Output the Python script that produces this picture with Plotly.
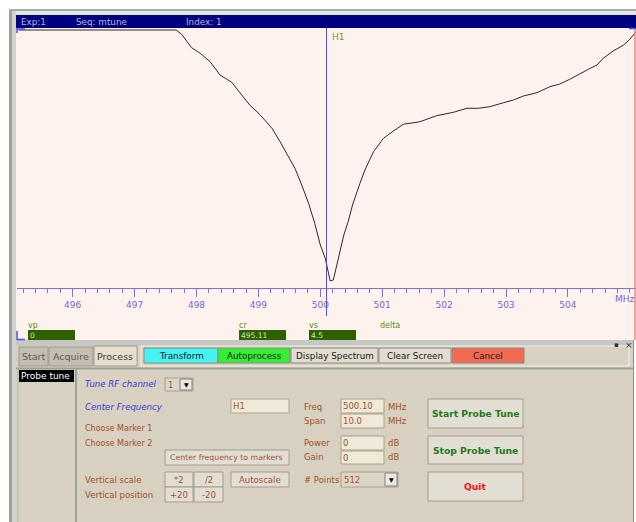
import plotly.graph_objects as go

W, H = 636, 522

# tuning sweep: frequency (MHz) and reflected signal (display units)
freq_mhz = [495.13, 497.67, 497.76, 497.92, 498.06, 498.22, 498.38, 498.57, 498.73, 498.86,
            499.03, 499.22, 499.35, 499.46, 499.59, 499.70, 499.81, 499.91, 500.00, 500.08,
            500.11, 500.16, 500.21, 500.29, 500.38, 500.45, 500.52, 500.64, 500.72, 500.86,
            501.02, 501.18, 501.34, 501.61, 501.88, 502.15, 502.37, 502.55, 502.74, 502.96,
            503.12, 503.28, 503.50, 503.71, 503.87, 504.03, 504.20, 504.36, 504.47, 504.57,
            504.73, 504.90, 505.00, 505.10]
reflection = [258, 258, 253.7, 240.3, 234.7, 226.3, 213, 205.7, 193, 183,
              173, 159.7, 146.3, 134.7, 119.7, 103, 84.7, 64.7, 43, 29.7,
              19.7, 7, 8, 29.7, 53, 66.3, 83, 104.7, 118, 136.3,
              149.7, 157, 163.7, 166.3, 172.3, 175.7, 179.7, 179.7, 181.3, 185.3,
              188, 192, 195.3, 201.3, 204, 208.7, 214.7, 219.7, 223, 229.7,
              237, 243, 248.7, 256.3]

center_freq = 500.10
span_mhz = 10.0
major_ticks = [496, 497, 498, 499, 500, 501, 502, 503, 504]
tick_labels = [str(t) for t in major_ticks]

header_items = ['Exp:1', 'Seq: mtune', 'Index: 1']
marker_names = ['vp', 'cr', 'vs', 'delta']
marker_values = ['0', '495.11', '4.5', None]

tabs = ['Start', 'Acquire', 'Process']
action_buttons = ['Transform', 'Autoprocess', 'Display Spectrum', 'Clear Screen', 'Cancel']
action_colors = ['#44f2f2', '#33ee33', '#e2ddd0', '#e2ddd0', '#f26a50']

FONT = 'DejaVu Sans'
BEIGE = '#d8d0c0'
BROWN = '#a0522d'
BLUE_TXT = '#3a3ad6'
PINK = '#fdf2ed'


def px(x):
    return x / W


def py(y):
    return 1 - y / H


shapes = []
notes = []


def rect(x0, y0, x1, y1, fill, line=None, lw=1, layer='above'):
    shapes.append(dict(type='rect', xref='paper', yref='paper',
                       x0=px(x0), x1=px(x1), y0=py(y1), y1=py(y0),
                       fillcolor=fill, layer=layer,
                       line=dict(color=line or fill, width=lw if line else 0)))


def hline(x0, x1, y, color, lw=1):
    shapes.append(dict(type='line', xref='paper', yref='paper',
                       x0=px(x0), x1=px(x1), y0=py(y), y1=py(y),
                       line=dict(color=color, width=lw)))


def vline(x, y0, y1, color, lw=1):
    shapes.append(dict(type='line', xref='paper', yref='paper',
                       x0=px(x), x1=px(x), y0=py(y0), y1=py(y1),
                       line=dict(color=color, width=lw)))


def text(x, y, s, color, size=9, anchor='left'):
    notes.append(dict(x=px(x), y=py(y), xref='paper', yref='paper', text=s,
                      showarrow=False, xanchor=anchor, yanchor='middle',
                      borderpad=0, font=dict(family=FONT, size=size, color=color)))


def button(x0, y0, x1, y1, label, color=BROWN, size=8.5, fill='#e3ded3'):
    rect(x0, y0, x1, y1, fill, '#a39b8b')
    text((x0 + x1) / 2, (y0 + y1) / 2, label, color, size, 'center')


def field(x0, y0, x1, y1, value):
    rect(x0, y0, x1, y1, '#f1e9d8', '#a8a090')
    text(x0 + 1, (y0 + y1) / 2, value, BROWN, 8.5)


def combo(x0, y0, x1, y1, value):
    rect(x0, y0, x1, y1, '#ddd5c6', '#a8a090')
    text(x0 + 2, (y0 + y1) / 2, value, BROWN, 8.5)
    rect(x1 - 13, y0 + 1, x1 - 1, y1 - 1, '#ece8e0', '#808080')
    text(x1 - 7, (y0 + y1) / 2, '▼', '#000000', 6, 'center')


# window frame
hline(9, 636, 10, '#a4aca4', 2)
rect(9, 11, 636, 15, '#e6e6e6', layer='below')
rect(9, 9, 12, 522, '#98a496', layer='below')
rect(12, 11, 16, 522, '#d2d4ce', layer='below')

# header bar
rect(16, 15, 636, 28, '#000080', layer='below')
for label, x in zip(header_items, [20, 75, 185]):
    text(x, 22, label, '#b8b8d0', 8.8)

# display area
rect(16, 28, 636, 340, PINK, layer='below')
vline(635, 28, 340, '#f08a80', 1.5)
hline(17, 25, 29, '#4a4aff', 1.5)
vline(17, 28, 33, '#4a4aff', 1.5)
hline(629, 636, 28.5, '#4a4aff', 1.5)
vline(17, 331, 340, '#4a4aff', 1.5)
hline(17, 25, 339.5, '#4a4aff', 1.5)

# cursor
shapes.append(dict(type='line', xref='x', yref='paper', x0=center_freq, x1=center_freq,
                   y0=py(316), y1=py(28), line=dict(color='#4a4aff', width=1)))
text(331, 37, 'H1', '#6a9a30', 9)
text(636, 299, 'MHz', '#7068d8', 9, 'right')

# marker readouts
for name, val, x in zip(marker_names, marker_values, [28, 239, 309, 380]):
    text(x - 1, 325, name, '#5a8a20', 8)
    if val is not None:
        rect(x, 330, x + 47, 340, '#2f6000')
        text(x + 1, 335, val, '#d0e4b8', 7.5)

# control panel
rect(16, 340, 633, 346, '#c6c6c2', layer='below')
rect(16, 346, 633, 522, BEIGE, layer='below')
vline(633.5, 340, 522, '#8c8c8c', 1)
text(616, 345, '▪', '#303030', 7, 'center')
text(629, 345, '×', '#303030', 9, 'center')

for label, (x0, x1) in zip(tabs, [(19, 48), (49, 93), (94, 137)]):
    sel = label == 'Process'
    rect(x0, 346 if sel else 347, x1, 366, '#e6dece' if sel else '#c6beb0', '#a09888')
    text((x0 + x1) / 2, 356, label, '#404040' if sel else '#5a5a5a', 9.5, 'center')

rect(141, 346, 629, 366, BEIGE, '#f4f0e8')
for label, col, (x0, x1) in zip(action_buttons, action_colors,
                                [(144, 218), (218, 290), (291, 378), (379, 451), (452, 524)]):
    rect(x0, 348, x1, 363, col, '#8a8a84')
    text((x0 + x1) / 2, 355.5, label, '#202020', 8.8, 'center')

hline(16, 633, 368.5, '#98a496', 2)
vline(76, 369, 522, '#98a496', 2)
vline(18, 369, 522, '#b4b8b0', 1)
rect(19, 370, 74, 382, '#000000')
text(20, 376, 'Probe tune', '#ffffff', 9)

text(84, 384, '<i>Tune RF channel</i>', BLUE_TXT, 8.6)
combo(165, 378, 193, 391, '1')
text(84, 407, '<i>Center Frequency</i>', BLUE_TXT, 8.6)
field(231, 399, 289, 413, 'H1')
text(84, 428, 'Choose Marker 1', BROWN, 8)
text(84, 443, 'Choose Marker 2', BROWN, 8)
button(165, 450, 289, 465, 'Center frequency to markers', size=7.8)
text(84, 480, 'Vertical scale', BROWN, 8.5)
text(84, 495, 'Vertical position', BROWN, 8.5)
button(165, 472, 193, 487, '*2')
button(194, 472, 223, 487, '/2')
button(231, 472, 289, 487, 'Autoscale')
button(165, 487, 193, 502, '+20')
button(194, 487, 223, 502, '-20')

for label, y in [('Freq', 407), ('Span', 421), ('Power', 443), ('Gain', 457), ('# Points', 480)]:
    text(303, y, label, BROWN, 8.5)
field(341, 399, 384, 413, f'{center_freq:.2f}')
field(341, 414, 384, 428, f'{span_mhz:.1f}')
field(341, 436, 384, 450, '0')
field(341, 451, 384, 464, '0')
for label, y in [('MHz', 407), ('MHz', 421), ('dB', 443), ('dB', 457)]:
    text(387, y, label, BROWN, 8.5)
combo(341, 472, 398, 487, '512')

button(428, 399, 523, 428, '<b>Start Probe Tune</b>', '#1e7a1e', 9.2)
button(428, 436, 523, 464, '<b>Stop Probe Tune</b>', '#1e7a1e', 9.2)
button(428, 472, 523, 501, '<b>Quit</b>', '#f01414', 9.2)

fig = go.Figure(go.Scatter(x=freq_mhz, y=reflection, mode='lines',
                           line=dict(color='#2a2a2a', width=1), hoverinfo='skip'))

fig.update_layout(
    width=W, height=H, margin=dict(l=0, r=0, t=0, b=0),
    paper_bgcolor='#ffffff', plot_bgcolor='rgba(0,0,0,0)',
    showlegend=False, shapes=shapes, annotations=notes,
    font=dict(family=FONT), hovermode=False,
    xaxis=dict(domain=[px(17), 1], range=[center_freq - span_mhz / 2, center_freq + span_mhz / 2],
               tickvals=major_ticks, ticktext=tick_labels, ticks='outside', ticklen=8,
               tickcolor='#7a70e0', showline=True, linecolor='#7a70e0', linewidth=1,
               showgrid=False, zeroline=False,
               tickfont=dict(family=FONT, size=9, color='#7068d8'),
               minor=dict(dtick=0.2, tick0=496, ticks='outside', ticklen=4, tickcolor='#7a70e0')),
    yaxis=dict(domain=[py(288), py(28)], range=[0, 260], visible=False),
)

# the page's default 8px body margin would push the 636x522 figure off screen
fig.write_html('out.html', config={'displayModeBar': False},
               post_script="document.body.style.margin='0';document.body.style.overflow='hidden';")
